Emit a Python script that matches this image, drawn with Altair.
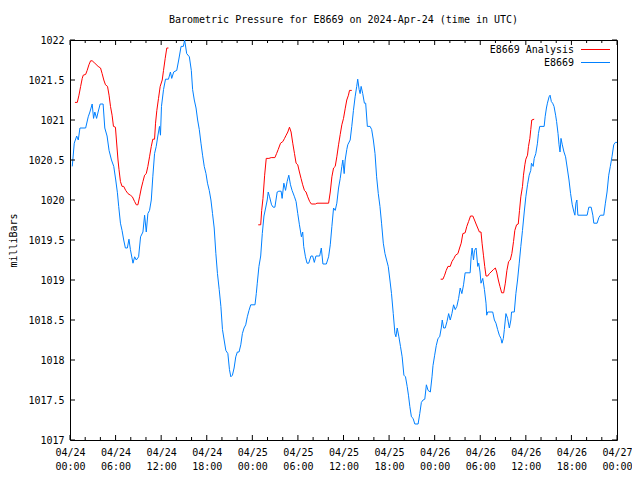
import json
import altair as alt
import pandas as pd

FONT = "DejaVu Sans Mono"

title_text = "Barometric Pressure for E8669 on 2024-Apr-24 (time in UTC)"
y_title = "milliBars"
series_names = ["E8669 Analysis", "E8669"]
series_colors = ["#ff0000", "#0080ff"]

x_tick_hours = [0, 6, 12, 18, 24, 30, 36, 42, 48, 54, 60, 66, 72]
x_tick_dates = ["04/24", "04/24", "04/24", "04/24", "04/25", "04/25", "04/25", "04/25",
                "04/26", "04/26", "04/26", "04/26", "04/27"]
x_tick_times = ["00:00", "06:00", "12:00", "18:00", "00:00", "06:00", "12:00", "18:00",
                "00:00", "06:00", "12:00", "18:00", "00:00"]
x_minor_hours = [2, 4, 8, 10, 14, 16, 20, 22, 26, 28, 32, 34, 38, 40, 44, 46,
                 50, 52, 56, 58, 62, 64, 68, 70]
y_tick_values = [1017, 1017.5, 1018, 1018.5, 1019, 1019.5, 1020, 1020.5, 1021, 1021.5, 1022]

# E8669 observations (hours since 2024-04-24 00:00 UTC, millibars)
blue_hours = [0.30, 0.56, 0.88, 1.09, 1.31, 2.06, 2.40, 2.62, 2.92, 3.10, 3.27, 3.50, 3.70, 3.97,
              4.36, 4.58, 4.88, 5.14, 5.46, 5.76, 6.02, 6.24, 6.41, 6.64, 6.85, 7.07, 7.29, 7.55,
              7.76, 7.95, 8.29, 8.51, 8.73, 9.03, 9.29, 9.60, 9.82, 10.04, 10.25, 10.47, 10.70,
              10.90, 11.13, 11.35, 11.56, 11.78, 11.91, 12.04, 12.31, 12.57, 12.96, 13.22, 13.39,
              13.65, 14.05, 14.31, 14.62, 14.92, 15.09, 15.36, 15.71, 15.97, 16.14, 16.36, 16.59,
              16.80, 17.02, 17.24, 17.45, 17.67, 17.90, 18.10, 18.33, 18.55, 18.76, 18.98, 19.20,
              19.41, 19.64, 19.86, 20.07, 20.29, 20.51, 20.78, 20.99, 21.17, 21.38, 21.60, 21.82,
              22.03, 22.25, 22.48, 22.69, 22.91, 23.13, 23.34, 23.56, 23.79, 24.35, 24.52, 24.65,
              24.87, 25.10, 25.31, 25.53, 25.75, 25.96, 26.09, 26.27, 26.53, 26.74, 26.97, 27.27,
              27.49, 27.79, 27.92, 28.15, 28.37, 28.58, 28.80, 29.02, 29.23, 29.55, 29.76, 29.98,
              30.20, 30.46, 30.63, 30.76, 30.99, 31.20, 31.42, 31.72, 31.94, 32.16, 32.37, 32.86,
              33.08, 33.29, 33.74, 34.04, 34.26, 34.47, 34.69, 34.91, 35.12, 35.35, 35.57, 35.78,
              35.91, 36.09, 36.22, 36.43, 36.56, 36.88, 37.09, 37.31, 37.53, 37.74, 37.87, 38.06,
              38.19, 38.32, 38.53, 38.75, 38.92, 39.14, 39.50, 39.71, 39.93, 40.15, 40.36, 40.58,
              40.80, 41.01, 41.24, 41.46, 41.67, 41.89, 42.11, 42.32, 42.55, 42.77, 42.90, 43.07,
              43.29, 43.50, 43.72, 43.95, 44.16, 44.38, 44.55, 44.73, 44.94, 45.16, 45.39, 45.82,
              46.04, 46.25, 46.47, 46.70, 46.91, 47.13, 47.43, 47.65, 47.78, 48.00, 48.21, 48.44,
              48.66, 48.87, 49.00, 49.18, 49.39, 49.62, 49.84, 50.05, 50.27, 50.49, 50.70, 50.92,
              51.15, 51.36, 51.58, 51.80, 52.01, 52.67, 52.80, 52.93, 53.11, 53.24, 53.45, 53.67,
              53.80, 53.97, 54.10, 54.33, 54.55, 54.76, 54.85, 54.98, 55.64, 55.86, 56.07, 56.29,
              56.51, 56.72, 56.86, 57.04, 57.17, 57.38, 57.60, 57.83, 58.03, 58.12, 58.48, 58.69,
              58.91, 59.13, 59.34, 59.56, 59.79, 60.00, 60.22, 60.44, 60.65, 60.74, 60.97, 61.10,
              61.31, 61.53, 61.66, 61.83, 62.41, 62.54, 62.71, 62.84, 63.06, 63.19, 63.36, 63.53,
              63.71, 63.92, 64.05, 64.24, 64.37, 64.50, 64.63, 64.80, 65.02, 65.23, 65.45, 65.68,
              65.89, 66.11, 66.33, 66.46, 66.59, 66.72, 66.85, 68.07, 68.20, 68.29, 68.60, 68.82,
              68.95, 69.38, 69.61, 69.82, 70.26, 70.47, 70.69, 70.91, 71.12, 71.34, 71.57, 71.78,
              72.00]
blue_mb = [1020.42, 1020.71, 1020.80, 1020.75, 1020.90, 1020.90, 1021.04, 1021.10, 1021.20, 1021.02,
           1021.10, 1021.02, 1021.10, 1021.20, 1021.20, 1020.90, 1020.80, 1020.62, 1020.50, 1020.42,
           1020.25, 1020.09, 1019.92, 1019.71, 1019.62, 1019.50, 1019.40, 1019.40, 1019.51, 1019.38,
           1019.21, 1019.29, 1019.25, 1019.29, 1019.54, 1019.60, 1019.81, 1019.60, 1019.83, 1019.87,
           1020.00, 1020.29, 1020.58, 1020.67, 1020.80, 1020.92, 1020.81, 1021.17, 1021.38, 1021.51,
           1021.51, 1021.60, 1021.52, 1021.60, 1021.62, 1021.75, 1021.92, 1021.92, 1022.00, 1021.83,
           1021.79, 1021.62, 1021.38, 1021.25, 1021.15, 1021.00, 1020.88, 1020.71, 1020.56, 1020.42,
           1020.33, 1020.21, 1020.12, 1020.00, 1019.83, 1019.65, 1019.33, 1019.08, 1018.88, 1018.67,
           1018.38, 1018.25, 1018.12, 1018.08, 1017.88, 1017.79, 1017.81, 1017.90, 1018.04, 1018.10,
           1018.10, 1018.19, 1018.33, 1018.40, 1018.44, 1018.54, 1018.62, 1018.69, 1018.69, 1018.83,
           1018.96, 1019.17, 1019.30, 1019.58, 1019.80, 1019.90, 1020.00, 1020.10, 1020.04, 1019.94,
           1019.91, 1019.91, 1020.10, 1020.11, 1020.11, 1020.02, 1020.21, 1020.12, 1020.23, 1020.31,
           1020.19, 1020.12, 1020.04, 1019.98, 1019.83, 1019.69, 1019.54, 1019.60, 1019.42, 1019.29,
           1019.21, 1019.21, 1019.30, 1019.30, 1019.22, 1019.30, 1019.30, 1019.40, 1019.20, 1019.20,
           1019.29, 1019.44, 1019.67, 1019.90, 1019.87, 1019.96, 1020.15, 1020.27, 1020.42, 1020.50,
           1020.33, 1020.50, 1020.63, 1020.69, 1020.75, 1020.92, 1021.12, 1021.29, 1021.42, 1021.51,
           1021.38, 1021.33, 1021.42, 1021.33, 1021.21, 1021.21, 1020.92, 1020.92, 1020.88, 1020.75,
           1020.58, 1020.29, 1020.08, 1019.92, 1019.71, 1019.46, 1019.33, 1019.25, 1019.17, 1019.00,
           1018.83, 1018.58, 1018.33, 1018.29, 1018.40, 1018.29, 1018.17, 1018.04, 1017.81, 1017.79,
           1017.67, 1017.56, 1017.42, 1017.29, 1017.27, 1017.20, 1017.20, 1017.33, 1017.47, 1017.50,
           1017.51, 1017.69, 1017.62, 1017.60, 1017.79, 1017.93, 1018.06, 1018.18, 1018.27, 1018.29,
           1018.40, 1018.50, 1018.40, 1018.40, 1018.48, 1018.58, 1018.50, 1018.58, 1018.69, 1018.63,
           1018.67, 1018.77, 1018.90, 1018.83, 1018.94, 1019.09, 1019.09, 1019.29, 1019.40, 1019.25,
           1019.37, 1019.40, 1019.17, 1019.21, 1019.10, 1018.96, 1019.02, 1018.88, 1018.71, 1018.56,
           1018.60, 1018.60, 1018.50, 1018.46, 1018.38, 1018.31, 1018.27, 1018.21, 1018.27, 1018.38,
           1018.58, 1018.52, 1018.40, 1018.50, 1018.60, 1018.60, 1018.83, 1019.00, 1019.21, 1019.42,
           1019.62, 1019.85, 1020.04, 1020.19, 1020.31, 1020.37, 1020.46, 1020.42, 1020.52, 1020.58,
           1020.71, 1020.83, 1020.92, 1020.92, 1021.04, 1021.15, 1021.21, 1021.29, 1021.31, 1021.23,
           1021.21, 1021.17, 1021.06, 1020.98, 1020.83, 1020.69, 1020.60, 1020.77, 1020.69, 1020.60,
           1020.54, 1020.40, 1020.25, 1020.08, 1019.94, 1019.85, 1019.81, 1019.96, 1020.00, 1019.81,
           1019.81, 1019.87, 1019.91, 1019.91, 1019.81, 1019.71, 1019.71, 1019.78, 1019.81, 1019.81,
           1019.96, 1020.10, 1020.31, 1020.42, 1020.54, 1020.69, 1020.72, 1020.72]

# E8669 Analysis, three separate runs
red1_hours = [0.65, 0.96, 1.18, 1.40, 1.61, 1.74, 2.06, 2.26, 2.49, 2.71, 2.92, 3.27, 3.70, 4.02,
              4.23, 4.45, 4.67, 4.94, 5.14, 5.33, 5.54, 5.72, 5.98, 6.11, 6.32, 6.45, 6.64, 6.85,
              7.07, 7.33, 7.63, 7.95, 8.21, 8.51, 8.73, 8.94, 9.16, 9.39, 9.60, 9.82, 10.04, 10.25,
              10.47, 10.70, 10.90, 11.13, 11.26, 11.43, 11.65, 11.87, 12.14, 12.31, 12.53, 12.74,
              12.96]
red1_mb = [1021.22, 1021.22, 1021.31, 1021.42, 1021.52, 1021.56, 1021.57, 1021.62, 1021.69, 1021.74,
           1021.74, 1021.71, 1021.67, 1021.65, 1021.58, 1021.50, 1021.44, 1021.42, 1021.31, 1021.17,
           1021.06, 1020.92, 1020.91, 1020.75, 1020.50, 1020.38, 1020.23, 1020.17, 1020.17, 1020.12,
           1020.08, 1020.06, 1020.04, 1019.98, 1019.94, 1019.94, 1020.04, 1020.15, 1020.23, 1020.31,
           1020.33, 1020.42, 1020.54, 1020.67, 1020.76, 1020.76, 1020.96, 1021.12, 1021.27, 1021.42,
           1021.50, 1021.62, 1021.77, 1021.90, 1021.90]
red2_hours = [24.78, 25.10, 25.23, 25.40, 25.62, 25.83, 26.18, 26.48, 26.97, 27.19, 27.40, 27.71,
              28.01, 28.24, 28.45, 28.67, 28.89, 29.10, 29.32, 29.55, 29.76, 29.98, 30.20, 30.41,
              30.63, 30.86, 31.07, 31.29, 31.55, 31.77, 32.30, 32.51, 34.04, 34.26, 34.47, 34.69,
              34.91, 35.12, 35.35, 35.57, 35.78, 36.00, 36.22, 36.43, 36.65, 36.79, 37.09]
red2_mb = [1019.69, 1019.69, 1019.87, 1020.02, 1020.31, 1020.52, 1020.52, 1020.53, 1020.53, 1020.58,
           1020.63, 1020.71, 1020.73, 1020.77, 1020.81, 1020.85, 1020.91, 1020.85, 1020.71, 1020.58,
           1020.46, 1020.44, 1020.35, 1020.27, 1020.19, 1020.12, 1020.10, 1020.04, 1019.98, 1019.95,
           1019.95, 1019.96, 1019.96, 1020.10, 1020.29, 1020.40, 1020.42, 1020.54, 1020.69, 1020.82,
           1020.94, 1021.02, 1021.14, 1021.25, 1021.31, 1021.37, 1021.37]
red3_hours = [48.79, 49.09, 49.31, 49.52, 49.75, 50.05, 50.27, 50.53, 50.75, 51.06, 51.28, 51.49,
              51.71, 52.01, 52.23, 52.46, 52.72, 53.02, 53.24, 53.45, 53.67, 53.89, 54.10, 54.24,
              54.42, 54.59, 54.76, 54.98, 55.20, 55.42, 55.73, 55.99, 56.16, 56.38, 56.59, 56.82,
              57.08, 57.30, 57.51, 57.73, 57.95, 58.16, 58.38, 58.55, 58.78, 59.00, 59.17, 59.34,
              59.56, 59.69, 59.87, 60.00, 60.22, 60.35, 60.53, 60.65, 60.78, 61.10]
red3_mb = [1019.01, 1019.01, 1019.06, 1019.12, 1019.17, 1019.17, 1019.23, 1019.27, 1019.31, 1019.33,
           1019.40, 1019.46, 1019.58, 1019.59, 1019.67, 1019.73, 1019.80, 1019.80, 1019.75, 1019.70,
           1019.65, 1019.60, 1019.60, 1019.46, 1019.31, 1019.17, 1019.05, 1019.05, 1019.08, 1019.10,
           1019.13, 1019.15, 1019.10, 1019.00, 1018.92, 1018.84, 1018.84, 1018.96, 1019.12, 1019.23,
           1019.25, 1019.33, 1019.48, 1019.62, 1019.69, 1019.70, 1019.87, 1020.04, 1020.17, 1020.31,
           1020.44, 1020.51, 1020.56, 1020.67, 1020.77, 1020.88, 1021.00, 1021.01]

W, H = 547, 400
MAJOR, MINOR = 5, 3

blue_df = pd.DataFrame({"hours": blue_hours, "mb": blue_mb})
red_df = pd.concat([
    pd.DataFrame({"hours": red1_hours, "mb": red1_mb, "seg": 1}),
    pd.DataFrame({"hours": red2_hours, "mb": red2_mb, "seg": 2}),
    pd.DataFrame({"hours": red3_hours, "mb": red3_mb, "seg": 3}),
])

idx = "round(datum.value / 6)"
label_expr = "[%s[%s], %s[%s]]" % (json.dumps(x_tick_dates), idx, json.dumps(x_tick_times), idx)

x_enc = alt.X(
    "hours:Q",
    scale=alt.Scale(domain=[0, 72], nice=False, zero=False),
    axis=alt.Axis(values=x_tick_hours, labelExpr=label_expr, ticks=False, domain=False,
                  grid=False, title=None, labelFont=FONT, labelFontSize=10, labelColor="black",
                  labelPadding=7, labelLineHeight=14, labelOverlap=False, labelFlush=False),
)
y_enc = alt.Y(
    "mb:Q",
    scale=alt.Scale(domain=[1017, 1022], nice=False, zero=False),
    axis=alt.Axis(values=y_tick_values, format="~f", ticks=False, domain=False, grid=False,
                  title=y_title, titleFont=FONT, titleFontSize=10, titleFontWeight="normal",
                  titleColor="black", titleX=-57, titleY=H / 2, titleAlign="center",
                  titleBaseline="middle", labelFont=FONT, labelFontSize=10,
                  labelColor="black", labelPadding=6),
)

blue_line = alt.Chart(blue_df).mark_line(color=series_colors[1], strokeWidth=1).encode(
    x=x_enc, y=y_enc)
red_line = alt.Chart(red_df).mark_line(color=series_colors[0], strokeWidth=1).encode(
    x=x_enc, y=y_enc, detail="seg:N")

xmaj = pd.DataFrame({"hours": x_tick_hours})
xmin = pd.DataFrame({"hours": x_minor_hours})
ytk = pd.DataFrame({"mb": y_tick_values})

tick_layers = [
    alt.Chart(xmaj).mark_rule(color="black").encode(x=x_enc, y=alt.value(H), y2=alt.value(H - MAJOR)),
    alt.Chart(xmaj).mark_rule(color="black").encode(x=x_enc, y=alt.value(0), y2=alt.value(MAJOR)),
    alt.Chart(xmin).mark_rule(color="black").encode(x=x_enc, y=alt.value(H), y2=alt.value(H - MINOR)),
    alt.Chart(xmin).mark_rule(color="black").encode(x=x_enc, y=alt.value(0), y2=alt.value(MINOR)),
    alt.Chart(ytk).mark_rule(color="black").encode(y=y_enc, x=alt.value(0), x2=alt.value(MAJOR)),
    alt.Chart(ytk).mark_rule(color="black").encode(y=y_enc, x=alt.value(W), x2=alt.value(W - MAJOR)),
]

legend_layers = []
for i, (name, col) in enumerate(zip(series_names, series_colors)):
    ypos = 9.5 + 13 * i
    legend_layers.append(
        alt.Chart(pd.DataFrame({"name": [name]})).mark_text(
            align="right", baseline="middle", font=FONT, fontSize=10, color="black"
        ).encode(text="name:N", x=alt.value(504), y=alt.value(ypos))
    )
    legend_layers.append(
        alt.Chart(pd.DataFrame({"name": [name]})).mark_rule(color=col, strokeWidth=1).encode(
            x=alt.value(511), x2=alt.value(540), y=alt.value(ypos))
    )

chart = alt.layer(red_line, blue_line, *tick_layers, *legend_layers).properties(
    width=W,
    height=H,
    title=alt.TitleParams(text=title_text, font=FONT, fontSize=10, fontWeight="normal",
                          anchor="middle", frame="group", offset=10, color="black"),
    autosize=alt.AutoSizeParams(type="none"),
    padding={"left": 62, "top": 32, "right": 15, "bottom": 32},
    background="white",
).configure_view(stroke="black", strokeWidth=1)

chart.save("out.html", embed_options={"renderer": "svg", "actions": False})
